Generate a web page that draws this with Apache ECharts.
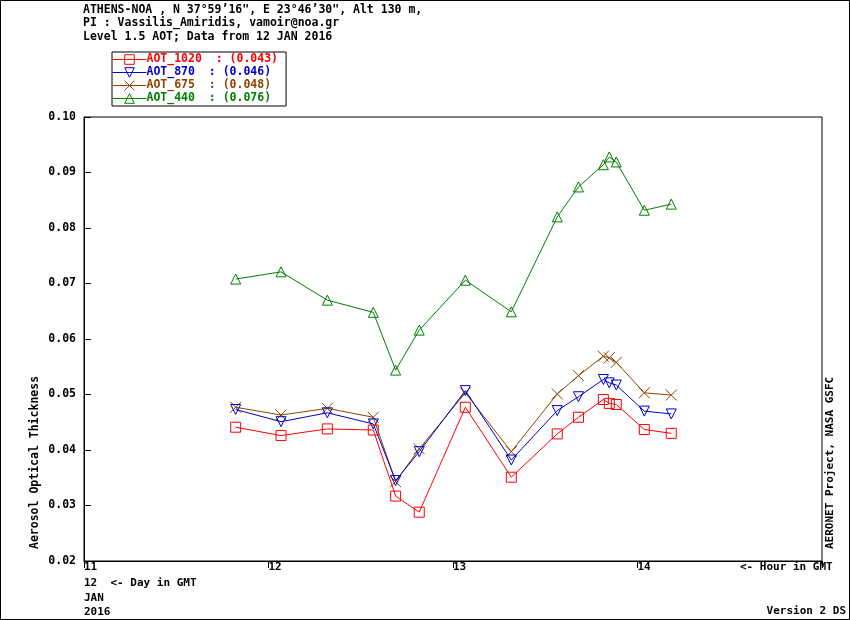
<!DOCTYPE html>
<html>
<head>
<meta charset="utf-8">
<script src="https://cdn.jsdelivr.net/npm/echarts@6/dist/echarts.min.js"></script>
<style>
  html, body { margin: 0; padding: 0; background: #fff; }
  #chart { width: 850px; height: 620px; }
</style>
</head>
<body>
<div id="chart"></div>
<script>
// hours in GMT, one per measurement (same times for every wavelength)
const hours = [11.822, 12.068, 12.319, 12.568, 12.689, 12.817, 13.067, 13.316,
  13.565, 13.680, 13.815, 13.847, 13.885, 14.037, 14.183]

const aot1020 = [0.0441, 0.0426, 0.0438, 0.0436, 0.0317, 0.0288, 0.0477, 0.0351,
  0.0429, 0.0459, 0.0491, 0.0484, 0.0482, 0.0437, 0.0430]
const aot870 = [0.0473, 0.0451, 0.0467, 0.0447, 0.0345, 0.0397, 0.0507, 0.0382,
  0.0471, 0.0496, 0.0527, 0.0521, 0.0517, 0.0470, 0.0465]
const aot675 = [0.0477, 0.0463, 0.0475, 0.0459, 0.0343, 0.0402, 0.0503, 0.0397,
  0.0501, 0.0534, 0.0569, 0.0566, 0.0558, 0.0503, 0.0499]
const aot440 = [0.0708, 0.0721, 0.0670, 0.0648, 0.0544, 0.0616, 0.0706, 0.0649,
  0.0820, 0.0874, 0.0914, 0.0928, 0.0919, 0.0832, 0.0843]

const seriesNames = ['AOT_1020', 'AOT_870', 'AOT_675', 'AOT_440']
const meanLabels = ['0.043', '0.046', '0.048', '0.076']

const headerLines = [
  'ATHENS-NOA , N 37\u00b059\u201916", E 23\u00b046\u201930", Alt 130 m,',
  'PI : Vassilis_Amiridis, vamoir@noa.gr',
  'Level 1.5 AOT; Data from 12 JAN 2016',
]
const dayLines = ['12  <- Day in GMT', 'JAN', '2016']

const FONT = '"DejaVu Sans Mono", monospace'
const colors = ['#ff0000', '#0000cc', '#8b4500', '#008000']
const symbols = [
  'rect',
  'path://M0,0L10,0L5,10Z',
  'path://M0,0L10,10M10,0L0,10',
  'path://M5,0L10,10L0,10Z',
]
const valueSets = [aot1020, aot870, aot675, aot440]

const chart = echarts.init(document.getElementById('chart'), null, { renderer: 'canvas' })

const series = seriesNames.map((name, i) => ({
  name,
  type: 'line',
  data: hours.map((h, k) => [h, valueSets[i][k]]),
  symbol: symbols[i],
  symbolSize: i === 2 ? 11 : 10,
  showSymbol: true,
  animation: false,
  lineStyle: { color: colors[i], width: 1 },
  itemStyle: { color: 'rgba(0,0,0,0)', borderColor: colors[i], borderWidth: 1 },
  emphasis: { disabled: true },
  z: 10 - i,
}))

chart.setOption({
  animation: false,
  backgroundColor: '#fff',
  grid: { left: 84, top: 117, right: 28, bottom: 59, show: true, borderColor: '#000', borderWidth: 1 },
  legend: {
    orient: 'vertical',
    left: 112,
    top: 52,
    padding: [1, 8, 1, 0],
    itemGap: 0,
    itemWidth: 34,
    itemHeight: 12,
    borderColor: '#000',
    borderWidth: 1,
    backgroundColor: '#fff',
    selectedMode: false,
    itemStyle: { borderWidth: 1 },
    lineStyle: { width: 1 },
    data: seriesNames.map((name, i) => ({ name, textStyle: { color: colors[i] } })),
    formatter: (name) => name + '  : (' + meanLabels[seriesNames.indexOf(name)] + ')',
    textStyle: { fontFamily: FONT, fontSize: 11.5, fontWeight: 'bold', padding: [0, 0, 0, -5], lineHeight: 13 },
  },
  xAxis: {
    type: 'value',
    min: 11,
    max: 15,
    interval: 1,
    axisLine: { onZero: false, lineStyle: { color: '#000', width: 1 } },
    axisTick: { show: true, inside: false, length: 7, lineStyle: { color: '#000' } },
    splitLine: { show: false },
    axisLabel: {
      color: '#000',
      fontFamily: FONT,
      fontSize: 11,
      fontWeight: 'bold',
      align: 'left',
      margin: 1,
      formatter: (v) => (v >= 15 ? '' : String(v)),
    },
  },
  yAxis: {
    type: 'value',
    min: 0.02,
    max: 0.10,
    interval: 0.01,
    axisLine: { lineStyle: { color: '#000', width: 1 } },
    axisTick: { show: true, inside: true, length: 7, lineStyle: { color: '#000' } },
    splitLine: { show: false },
    axisLabel: {
      color: '#000',
      fontFamily: FONT,
      fontSize: 11.5,
      fontWeight: 'bold',
      margin: 8,
      formatter: (v) => v.toFixed(2),
    },
  },
  graphic: [
    {
      type: 'rect',
      shape: { x: 0.5, y: 0.5, width: 849, height: 619 },
      style: { fill: 'none', stroke: '#000', lineWidth: 1 },
      silent: true,
      z: -1,
    },
    {
      type: 'text',
      x: 83, y: 3,
      style: { text: headerLines.join('\n'), fill: '#000', font: 'bold 11.5px ' + FONT, lineHeight: 13.5 },
    },
    {
      type: 'text',
      x: 35, y: 549, rotation: Math.PI / 2,
      style: { text: 'Aerosol Optical Thickness', fill: '#000', font: 'bold 11.5px ' + FONT, align: 'left', verticalAlign: 'middle' },
    },
    {
      type: 'text',
      x: 830, y: 549, rotation: Math.PI / 2,
      style: { text: 'AERONET Project, NASA GSFC', fill: '#000', font: 'bold 11px ' + FONT, align: 'left', verticalAlign: 'middle' },
    },
    {
      type: 'text',
      x: 740, y: 567,
      style: { text: '<- Hour in GMT', fill: '#000', font: 'bold 11px ' + FONT, verticalAlign: 'middle' },
    },
    {
      type: 'text',
      x: 84, y: 576,
      style: { text: dayLines.join('\n'), fill: '#000', font: 'bold 11px ' + FONT, lineHeight: 14.5 },
    },
    {
      type: 'text',
      x: 846, y: 611,
      style: { text: 'Version 2 DS', fill: '#000', font: 'bold 11px ' + FONT, align: 'right', verticalAlign: 'middle' },
    },
  ],
  series,
})
</script>
</body>
</html>
